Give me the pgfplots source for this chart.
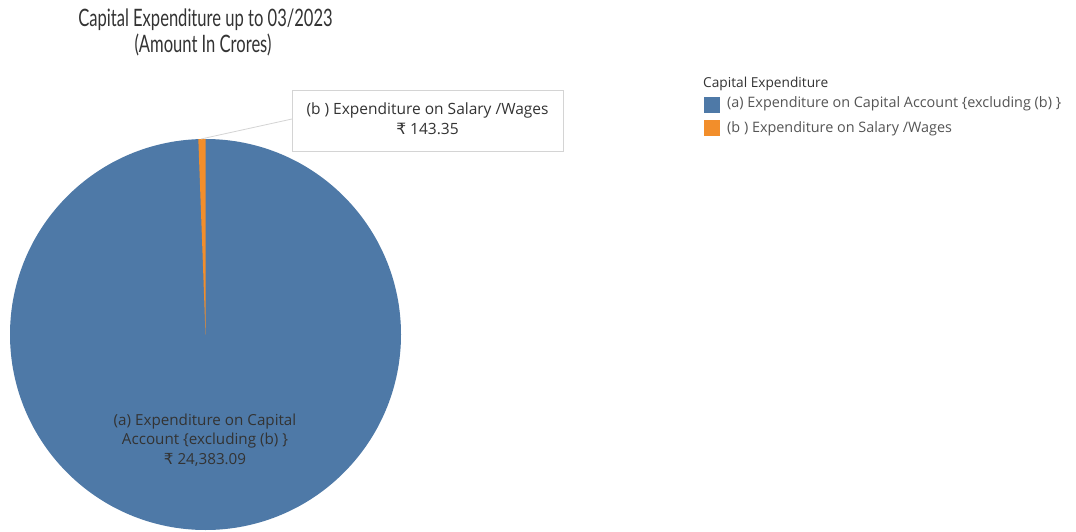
\documentclass[border=0pt]{standalone}
\usepackage{fontspec}
\setmainfont{Open Sans}
\newfontfamily\titlefont[FakeStretch=0.69]{Lato}
\newfontfamily\rs{DejaVu Sans}
\usepackage{pgfplots}
\usepackage{pgfplotstable}
\pgfplotsset{compat=1.18}
\definecolor{tblue}{HTML}{4E79A7}
\definecolor{torange}{HTML}{F28E2B}
\definecolor{txt}{HTML}{333333}
\definecolor{legtxt}{HTML}{555555}
\definecolor{boxline}{HTML}{D4D4D4}
\pgfplotstableread{
category value
a 24383.09
b 143.35
}\capexp
\begin{document}
\begin{tikzpicture}
\pgfplotstablegetelem{0}{value}\of\capexp \let\va\pgfplotsretval
\pgfplotstablegetelem{1}{value}\of\capexp \let\vb\pgfplotsretval
\edef\ang{\fpeval{360*\vb/(\va+\vb)}}
\edef\ox{\fpeval{205.5+195.5*cosd(90+\ang)}}
\edef\oy{\fpeval{196.5+195.5*sind(90+\ang)}}
\begin{axis}[hide axis, scale only axis, width=1076pt, height=531pt,
  xmin=0, xmax=1076, ymin=0, ymax=531, clip=false]
\fill[white] (axis cs:0,0) rectangle (axis cs:1076,531);
% pie
\fill[tblue] (axis cs:205.5,196.5) circle[radius=195.5];
\addplot[fill=torange, draw=none] coordinates {(205.5,196.5) (205.5,392) (\ox,\oy)} -- cycle;
% title
\node[anchor=base, text=txt, font=\titlefont\fontsize{24}{28}\selectfont] at (axis cs:205.5,504) {Capital Expenditure up to 03/2023};
\node[anchor=base, text=txt, font=\titlefont\fontsize{24}{28}\selectfont] at (axis cs:203,478) {(Amount In Crores)};
% callout
\draw[boxline, line width=0.8pt] (axis cs:201,392) -- (axis cs:292,412);
\draw[boxline, fill=white, line width=0.8pt] (axis cs:292,441) rectangle (axis cs:563,380);
\node[anchor=base, text=txt, font=\fontsize{15.5}{18}\selectfont] at (axis cs:427.5,416) {(b ) Expenditure on Salary /Wages};
\node[anchor=base, text=txt, font=\fontsize{15.5}{18}\selectfont] at (axis cs:427.5,396) {{\rs ₹} 143.35};
% pie label
\node[anchor=base, text=txt, font=\fontsize{15.2}{18}\selectfont] at (axis cs:205,106) {(a) Expenditure on Capital};
\node[anchor=base, text=txt, font=\fontsize{15.2}{18}\selectfont] at (axis cs:205,87) {Account \{excluding (b) \}};
\node[anchor=base, text=txt, font=\fontsize{15.2}{18}\selectfont] at (axis cs:205,67) {{\rs ₹} 24,383.09};
% legend
\node[anchor=base west, inner sep=0pt, text=txt, font=\fontsize{13.7}{16}\selectfont] at (axis cs:703,443) {Capital Expenditure};
\fill[tblue] (axis cs:704,433.5) rectangle (axis cs:720,417.5);
\fill[torange] (axis cs:704,411) rectangle (axis cs:720,395);
\node[anchor=base west, inner sep=0pt, text=legtxt, font=\fontsize{14.4}{17}\selectfont] at (axis cs:727,423) {(a) Expenditure on Capital Account \{excluding (b) \}};
\node[anchor=base west, inner sep=0pt, text=legtxt, font=\fontsize{14.4}{17}\selectfont] at (axis cs:727,398) {(b ) Expenditure on Salary /Wages};
\end{axis}
\end{tikzpicture}
\end{document}
